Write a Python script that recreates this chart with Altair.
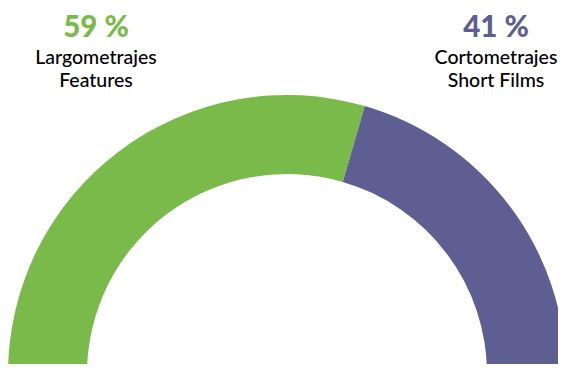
import altair as alt
import pandas as pd
import math

categories = ["Largometrajes\nFeatures", "Cortometrajes\nShort Films"]
keys = ["features", "shorts"]
values = [59, 41]
pct_labels = ["59 %", "41 %"]
colors = ["#7aba4a", "#5e5e92"]

df = pd.DataFrame({"key": keys, "label": categories, "value": values,
                   "pct": pct_labels, "order": [0, 1]})

color_scale = alt.Scale(domain=keys, range=colors)
xpos = alt.Scale(domain=keys, range=[88, 488], type="point", padding=0)

arc = alt.Chart(df).mark_arc(outerRadius=279, innerRadius=200).encode(
    theta=alt.Theta("value:Q", scale=alt.Scale(range=[-math.pi / 2, math.pi / 2]), stack=True),
    order=alt.Order("order:Q"),
    color=alt.Color("key:N", scale=color_scale, legend=None),
    x=alt.value(279),
    y=alt.value(366),
)

pct = alt.Chart(df).mark_text(font="Lato", fontWeight=900, fontSize=29.5,
                               baseline="alphabetic", align="center").encode(
    x=alt.X("key:N", scale=xpos, axis=None),
    y=alt.value(29),
    text="pct:N",
    color=alt.Color("key:N", scale=color_scale, legend=None),
)

lab = alt.Chart(df).mark_text(font="Lato", fontSize=19.5, fontWeight=500, lineBreak="\n", lineHeight=23,
                               baseline="alphabetic", align="center", color="#000000").encode(
    x=alt.X("key:N", scale=xpos, axis=None),
    y=alt.value(56),
    text="label:N",
)

chart = alt.layer(arc, pct, lab).properties(
    width=550, height=356, padding=0, autosize=alt.AutoSizeParams(type="none")
).configure_view(stroke=None)

chart.save("out.html", embed_options={"renderer": "svg", "actions": False})
